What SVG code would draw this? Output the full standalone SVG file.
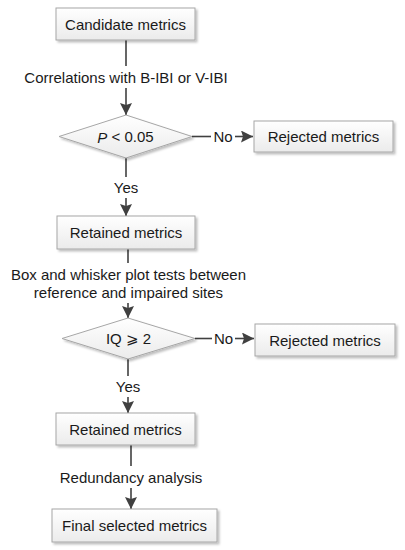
<svg xmlns="http://www.w3.org/2000/svg" width="405" height="550" viewBox="0 0 405 550">
<defs>
<linearGradient id="g" x1="0" y1="0" x2="0" y2="1"><stop offset="0" stop-color="#ffffff"/><stop offset="1" stop-color="#ebebeb"/></linearGradient>
<filter id="sh" x="-10%" y="-20%" width="130%" height="150%"><feDropShadow dx="2" dy="2" stdDeviation="1" flood-color="#000" flood-opacity="0.25"/></filter>
<marker id="ah" viewBox="0 0 12 12" refX="12" refY="6" markerWidth="12" markerHeight="12" markerUnits="userSpaceOnUse" orient="auto"><path d="M0,0 L12,6 L0,12 L2,6 Z" fill="#404040"/></marker>
</defs>
<style>
.box{fill:url(#g);stroke:#a6a6a6;stroke-width:1;filter:url(#sh)}
.t{font-family:"Liberation Sans",Arial,sans-serif;font-size:15px;fill:#1a1a1a;text-anchor:middle;dominant-baseline:central}
.c{stroke:#404040;stroke-width:1.6;fill:none}
</style>
<rect width="405" height="550" fill="#fff"/>
<g id="connectors">
<path class="c" d="M126,40 V66"/>
<path class="c" d="M126,88 V115" marker-end="url(#ah)"/>
<path class="c" d="M192,136.5 H211"/>
<path class="c" d="M235,136.5 H253" marker-end="url(#ah)"/>
<path class="c" d="M126,158 V177"/>
<path class="c" d="M126,198 V216" marker-end="url(#ah)"/>
<path class="c" d="M128,249 V263"/>
<path class="c" d="M128,303 V318" marker-end="url(#ah)"/>
<path class="c" d="M195,338.5 H212"/>
<path class="c" d="M235,338.5 H254" marker-end="url(#ah)"/>
<path class="c" d="M128,359 V376"/>
<path class="c" d="M128,397 V413" marker-end="url(#ah)"/>
<path class="c" d="M131,445 V466"/>
<path class="c" d="M131,488 V509" marker-end="url(#ah)"/>
</g>
<g id="candidate">
<rect class="box" x="56" y="8" width="139" height="32"/>
<text class="t" x="125.5" y="24">Candidate metrics</text>
</g>
<text class="t" x="126" y="77">Correlations with B-IBI or V-IBI</text>
<g id="decision1">
<polygon class="box" points="126,115 192,136.5 126,158 59,136.5"/>
<text class="t" x="125.5" y="136.5"><tspan font-style="italic">P</tspan> &lt; 0.05</text>
</g>
<text class="t" x="223" y="136.5">No</text>
<g id="rejected1">
<rect class="box" x="254" y="121" width="139" height="31"/>
<text class="t" x="323.5" y="136.5">Rejected metrics</text>
</g>
<text class="t" x="126" y="187">Yes</text>
<g id="retained1">
<rect class="box" x="57" y="216" width="138" height="33"/>
<text class="t" x="126" y="232.5">Retained metrics</text>
</g>
<text class="t" x="128.5" y="274">Box and whisker plot tests between</text>
<text class="t" x="128.5" y="292">reference and impaired sites</text>
<g id="decision2">
<polygon class="box" points="128,318 195,338.5 128,359 62,338.5"/>
<text class="t" x="128.5" y="338.5">IQ <tspan font-family="'DejaVu Sans','Noto Sans CJK SC',sans-serif">⩾</tspan> 2</text>
</g>
<text class="t" x="223.5" y="338.5">No</text>
<g id="rejected2">
<rect class="box" x="255" y="324" width="140" height="32"/>
<text class="t" x="325" y="340">Rejected metrics</text>
</g>
<text class="t" x="128" y="386">Yes</text>
<g id="retained2">
<rect class="box" x="56" y="413" width="139" height="32"/>
<text class="t" x="125.5" y="429">Retained metrics</text>
</g>
<text class="t" x="131" y="477">Redundancy analysis</text>
<g id="final">
<rect class="box" x="52" y="509" width="165" height="33"/>
<text class="t" x="134.5" y="525.5">Final selected metrics</text>
</g>
</svg>
